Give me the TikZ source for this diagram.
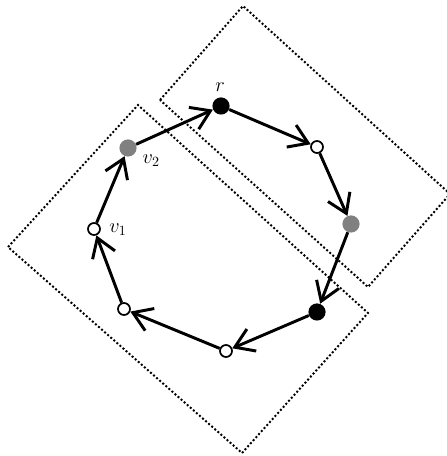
\documentclass[tikz,border=0pt]{standalone}
\usepackage{amsmath}
\usepackage{amssymb}
\usetikzlibrary{arrows.meta,positioning}

\begin{document}
\begin{tikzpicture}[x=1cm, y=1cm,
                    blk/.style={circle, fill=black, minimum size=0.43cm, inner sep=0pt},
                    gry/.style={circle, fill=gray, minimum size=0.43cm, inner sep=0pt},
                    wht/.style={circle, draw, line width=1.2pt, fill=white,
                                minimum size=0.3cm, inner sep=0pt},
                    lbl/.style={font=\Large, inner sep=1pt},
                    arc/.style={line width=2.1pt, -{Straight Barb[length=13pt, width=17pt]}},
                    region/.style={line width=1.4pt, dash pattern=on 1.4pt off 1.5pt}]
    \useasboundingbox (0,0) rectangle (11.175,11.4);
    % dotted regions
    \draw[region] (4.0,8.9) -- (6.075,11.25) -- (11.25,6.55) -- (9.2,4.225) -- cycle;
    \draw[region] (0.2,5.225) -- (3.45,8.775) -- (9.2,3.575) -- (6.05,0.075) -- cycle;
    % cycle nodes
    \node[blk] (r)  at (5.525,8.75)  {};
    \node[wht] (a)  at (7.925,7.725) {};
    \node[gry] (b)  at (8.775,5.8)   {};
    \node[blk] (c)  at (7.925,3.6)   {};
    \node[wht] (d)  at (5.65,2.625)  {};
    \node[wht] (e)  at (3.1,3.675)   {};
    \node[wht] (v1) at (2.35,5.675)  {};
    \node[gry] (v2) at (3.2,7.7)     {};
    \node[lbl] (lr)  at (5.5,9.22)   {$r$};
    \node[lbl] (lv1) at (2.95,5.65)  {$v_1$};
    \node[lbl] (lv2) at (3.78,7.38)  {$v_2$};
    \draw[arc] (v2) -- (r);
    \draw[arc] (r) -- (a);
    \draw[arc] (a) -- (b);
    \draw[arc] (b) -- (c);
    \draw[arc] (c) -- (d);
    \draw[arc] (d) -- (e);
    \draw[arc] (e) -- (v1);
    \draw[arc] (v1) -- (v2);
\end{tikzpicture}
\end{document}
